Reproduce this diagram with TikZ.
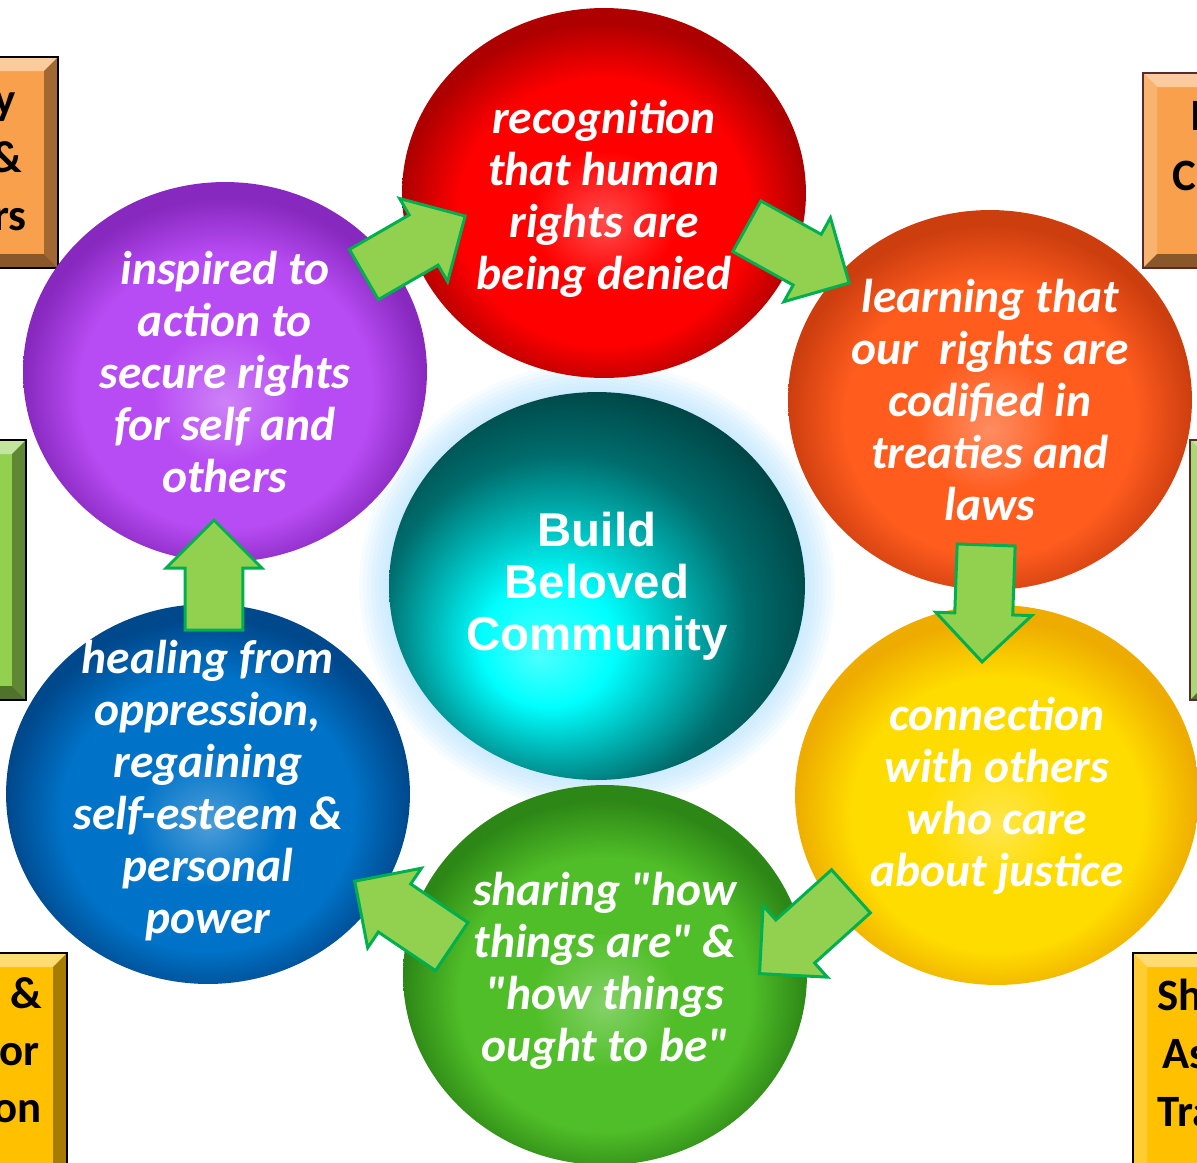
\documentclass[tikz,border=0pt]{standalone}
\usepackage{fontspec}
\setmainfont{Carlito}[Ligatures=TeXOff]
\newfontfamily\arialfont{Liberation Sans}
\usetikzlibrary{shapes.geometric,shapes.arrows,calc}

\definecolor{boxorange}{HTML}{F8A04C}
\definecolor{boxgreen}{HTML}{92D050}
\definecolor{boxyellow}{HTML}{FFC000}
\definecolor{boxrim}{HTML}{5B2A2A}
\definecolor{arrowfill}{HTML}{92D050}
\definecolor{arrowline}{HTML}{00B050}
\colorlet{ballin}{red}
\colorlet{ballout}{black}
\pgfdeclareradialshading[ballin,ballout]{gloss}{\pgfpoint{0bp}{-4bp}}{%
  color(0bp)=(ballin!70!white); color(9bp)=(ballin); color(18bp)=(ballin);
  color(25bp)=(ballout); color(50bp)=(ballout)}
\pgfdeclareradialshading{glosscore}{\pgfpoint{-7bp}{-9bp}}{%
  color(0bp)=(cyan!70!white); color(8bp)=(cyan); color(22bp)=(teal!85!black);
  color(32bp)=(teal!45!black); color(50bp)=(teal!45!black)}

\begin{document}
\begin{tikzpicture}[x=0.02cm, y=-0.02cm,
    ball/.style={ellipse, minimum width=8.08cm, minimum height=7.6cm, shading=gloss},
    in/.code={\colorlet{ballin}{#1}}, out/.code={\colorlet{ballout}{#1}},
    balltext/.style={text=white, align=center, inner sep=0pt,
      font=\fontsize{27}{29.6}\selectfont\bfseries\itshape},
    boxtext/.style={text=black, inner sep=0pt, font=\fontsize{25.5}{33}\selectfont\bfseries},
    greenarrow/.style={single arrow, draw=arrowline, fill=arrowfill, line width=1.7pt,
      minimum height=2.34cm, minimum width=1.88cm, single arrow head extend=0.38cm,
      single arrow head indent=0pt, inner xsep=0pt, inner ysep=0.55cm, anchor=tip}]
    \useasboundingbox (0,0) rectangle (1197,1163);
    \clip (0,0) rectangle (1197,1163);

    % Bevelled boxes cut off at the edges
    \foreach \xa/\ya/\xb/\yb/\col/\rim in {-150/57/58/268/boxorange/black,
        1143/73/1350/268/boxorange/boxrim, -150/440/26/700/boxgreen/black,
        1190/440/1400/700/boxgreen/boxrim, -150/953/67/1220/boxyellow/black,
        1133/953/1400/1220/boxyellow/black} {
      \fill[\col] (\xa,\ya) rectangle (\xb,\yb);
      \fill[\col!55!white] (\xa,\ya) -- (\xb,\ya) -- (\xb-14,\ya+14) -- (\xa+14,\ya+14) -- cycle;
      \fill[\col!80!white] (\xa,\ya) -- (\xa+14,\ya+14) -- (\xa+14,\yb-14) -- (\xa,\yb) -- cycle;
      \fill[\col!65!black] (\xb,\ya) -- (\xb,\yb) -- (\xb-14,\yb-14) -- (\xb-14,\ya+14) -- cycle;
      \fill[\col!55!black] (\xa,\yb) -- (\xb,\yb) -- (\xb-14,\yb-14) -- (\xa+14,\yb-14) -- cycle;
      \draw[\rim, line width=1.2pt] (\xa,\ya) rectangle (\xb,\yb);
    }
    \node[boxtext, anchor=base east] (tl1) at (16,114) {y};
    \node[boxtext, anchor=base east] (tl2) at (22,172) {\&};
    \node[boxtext, anchor=base east] (tl3) at (27,230) {rs};
    \node[boxtext, anchor=base west] (tr1) at (1190,130) {I};
    \node[boxtext, anchor=base west] (tr2) at (1172,190) {C};
    \node[boxtext, anchor=base east] (bl1) at (42,1008) {\&};
    \node[boxtext, anchor=base east] (bl2) at (40,1065) {or};
    \node[boxtext, anchor=base east] (bl3) at (42,1122) {on};
    \node[boxtext, anchor=base west] (br1) at (1157,1010) {Sh};
    \node[boxtext, anchor=base west] (br2) at (1162,1068) {As};
    \node[boxtext, anchor=base west] (br3) at (1157,1126) {Tra};

    % Glow round the middle ball
    \foreach \g in {30,26,...,2}
      \fill[blue!40!cyan!45, opacity=0.07] (597,586) ellipse ({208+\g} and {194+\g});

    % The six balls and the middle one
    \node[ball, minimum height=7.4cm, in={rgb,255:red,255;green,0;blue,0}, out={rgb,255:red,175;green,0;blue,0}] (red) at (604,193) {};
    \node[ball, in={rgb,255:red,184;green,76;blue,244}, out={rgb,255:red,135;green,40;blue,190}] (purple) at (225,372) {};
    \node[ball, in={rgb,255:red,255;green,92;blue,30}, out={rgb,255:red,205;green,62;blue,15}] (orange) at (990,400) {};
    \node[ball, in={rgb,255:red,255;green,220;blue,0}, out={rgb,255:red,238;green,172;blue,0}] (yellow) at (997,795) {};
    \node[ball, in={rgb,255:red,80;green,190;blue,40}, out={rgb,255:red,45;green,135;blue,22}] (green) at (605,975) {};
    \node[ball, in={rgb,255:red,0;green,115;blue,200}, out={rgb,255:red,0;green,72;blue,140}] (blue) at (208,794) {};
    \node[ellipse, minimum width=8.32cm, minimum height=7.76cm, shading=glosscore] (core) at (597,586) {};

    % Arrows between the balls
    \node[greenarrow, rotate=30] (a1) at (467,215) {};
    \node[greenarrow, rotate=-29] (a2) at (851,284) {};
    \node[greenarrow, rotate=-92] (a3) at (982,664) {};
    \node[greenarrow, rotate=222, minimum height=2.46cm] (a4) at (758,975) {};
    \node[greenarrow, rotate=146] (a5) at (353,880) {};
    \node[greenarrow, rotate=90, minimum height=2.2cm] (a6) at (214,518) {};

    % Texts
    \node[balltext] (redtxt) at ($(red)+(0,6)$) {recognition\\that human\\rights are\\being denied};
    \node[balltext] (purpletxt) at (purple) {inspired to\\action to\\secure rights\\for self and\\others};
    \node[balltext] (orangetxt) at (orange) {learning that\\our\ \ rights are\\codified in\\treaties and\\laws};
    \node[balltext] (yellowtxt) at ($(yellow)+(0,1)$) {connection\\with others\\who care\\about justice};
    \node[balltext] (greentxt) at ($(green)+(0,-4)$) {sharing "how\\things are" \&\\"how things\\ought to be"};
    \node[balltext] (bluetxt) at ($(blue)+(0,-3)$) {healing from\\oppression,\\regaining\\self-esteem \&\\personal\\power};
    \node[text=white, align=center, inner sep=0pt, font=\fontsize{27}{29.6}\selectfont\arialfont\bfseries] (coretxt) at (core) {Build\\Beloved\\Community};
\end{tikzpicture}
\end{document}
